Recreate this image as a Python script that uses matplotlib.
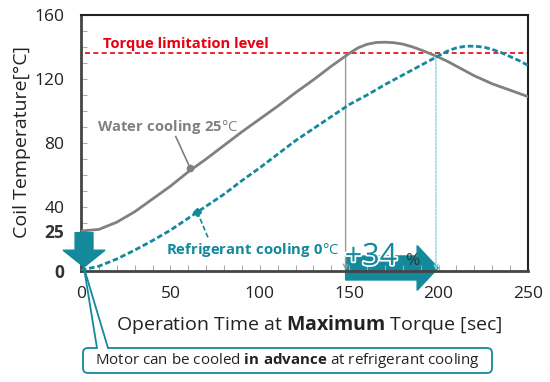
import matplotlib
matplotlib.use('Agg')
import matplotlib.pyplot as plt
from matplotlib.patches import FancyArrow, FancyBboxPatch, Polygon
from matplotlib.transforms import Affine2D
import matplotlib.patheffects as pe

# ---------------- data ----------------
water_t = [0, 10, 20, 30, 40, 50, 60, 70, 80, 90, 100, 110, 120, 130, 140, 150,
           155, 160, 165, 170, 175, 180, 185, 190, 195, 200, 205, 210, 220, 230, 240, 250]
water = [25, 26, 30.5, 37, 45, 53, 62, 70, 78.5, 87, 95, 103, 111.5, 119.5, 128, 136,
         139.5, 141.7, 142.8, 143, 142.7, 141.8, 140.2, 138.2, 136, 133.6, 131, 128,
         122, 117, 113, 109]
refrig_t = [0, 10, 20, 30, 40, 50, 60, 70, 80, 90, 100, 110, 120, 130, 140, 150,
            160, 170, 180, 190, 195, 200, 205, 210, 215, 220, 225, 230, 235, 240, 245, 250]
refrig = [0.5, 3, 7.5, 13, 19, 25.5, 33, 40.5, 48, 56.5, 64.5, 73, 81.5, 89, 96.5, 104,
          110, 116.5, 122.5, 128.5, 131.5, 134.5, 137.5, 139.5, 140.5, 140.5, 140,
          138.5, 136.5, 134, 131.5, 128.5]
limit = 136
t_water_limit = 148
t_refrig_limit = 198.5
gain_label = "+34"
xticks = [0, 50, 100, 150, 200, 250]
yticks = [0, 25, 40, 80, 120, 160]
ytick_labels = ['0', '25', '40', '80', '120', '160']

FONT = 'Open Sans'
plt.rcParams['font.family'] = [FONT, 'DejaVu Sans']
plt.rcParams['mathtext.fontset'] = 'custom'
plt.rcParams['mathtext.rm'] = FONT
plt.rcParams['mathtext.bf'] = FONT + ':bold'

GRAY = '#808080'
TEAL = '#13899b'
LTEAL = '#7fd6e8'
RED = '#e60012'
DARK = '#333333'

fig = plt.figure(figsize=(5.5, 3.82), dpi=100)
# pixel (from top-left) transform
T = Affine2D().scale(0.01, -0.01).translate(0, 3.82) + fig.dpi_scale_trans

ax = fig.add_axes([81 / 550, 1 - 271 / 382, 447 / 550, 256 / 382])
ax.set_xlim(0, 250)
ax.set_ylim(0, 160)

# limit line
ax.plot([2, 250], [limit, limit], color=RED, lw=1.2, ls=(0, (3, 2)), zorder=2)

# curves
ax.plot(water_t, water, color=GRAY, lw=2, zorder=3)
ax.plot(refrig_t, refrig, color=TEAL, lw=2, ls=(0, (2, 1)), zorder=3)

# vertical markers
ax.annotate('', xy=(t_water_limit, 0.5), xytext=(t_water_limit, limit),
            arrowprops=dict(arrowstyle='->', color='#999999', lw=1.0,
                            mutation_scale=8, shrinkA=0, shrinkB=0), zorder=2)
ax.annotate('', xy=(t_refrig_limit, 0.5), xytext=(t_refrig_limit, 134),
            arrowprops=dict(arrowstyle='->', color=LTEAL, lw=1.0, ls=(0, (1.5, 1)),
                            mutation_scale=8, shrinkA=0, shrinkB=0), zorder=2)

# +34% arrow (under spines)
arr = FancyArrow(t_water_limit, 1.9, 199.7 - t_water_limit, 0, width=15,
                 head_width=28, head_length=11.7, length_includes_head=True,
                 color=TEAL, clip_on=False, zorder=1.5)
ax.add_patch(arr)
ax.text(147.5, 3.8, gain_label, fontsize=22, color=TEAL,
        ha='left', va='baseline', zorder=4, clip_on=False,
        path_effects=[pe.withStroke(linewidth=2.5, foreground='white')])
ax.text(181, 3.8, '%', fontsize=12.5, color=DARK, ha='left', va='baseline',
        zorder=4, clip_on=False)

# down arrow at start
darr = FancyArrow(1.7, 24, 0, -21.5, width=10, head_width=23.5, head_length=10.5,
                  length_includes_head=True, color=TEAL, clip_on=False, zorder=5)
ax.add_patch(darr)

# ticks / spines
ax.set_xticks(xticks)
ax.set_xticks(range(0, 251, 10), minor=True)
ax.set_yticks(yticks)
ax.set_yticklabels(ytick_labels)
ax.set_yticks(range(0, 161, 10), minor=True)
ax.tick_params(which='both', direction='in', length=4, color='#aaaaaa', width=0.8)
ax.tick_params(axis='both', which='major', labelsize=12.5, labelcolor='#222222', pad=12)
ax.tick_params(axis='x', which='major', pad=11)
for lab in ax.get_yticklabels():
    if lab.get_text() in ('0', '25'):
        lab.set_fontweight('bold')
        lab.set_color(DARK)
for s in ('left', 'bottom'):
    ax.spines[s].set_linewidth(2)
    ax.spines[s].set_color('#444444')
for s in ('top', 'right'):
    ax.spines[s].set_linewidth(1.5)
    ax.spines[s].set_color('#222222')

# labels
fig.text(309, 324, r"Operation Time at $\bf{Maximum}$ Torque [sec]", transform=T,
         fontsize=14, ha='center', va='center', color='#222222')
fig.text(22, 142, "Coil Temperature[°C]", transform=T, rotation=90,
         fontsize=14, ha='center', va='center', color='#222222')

# annotations
fig.text(186, 44, "Torque limitation level", transform=T, fontsize=10.6,
         fontweight='bold', color=RED, ha='center', va='center')
fig.text(97, 127, r"$\bf{Water\ cooling\ 25}$°C", transform=T, fontsize=10.6,
         color=GRAY, ha='left', va='center')
ax.plot([53, 61], [84, 64.5], color=GRAY, lw=1.2, zorder=3)
ax.plot([61], [64.5], 'o', color=GRAY, ms=4.5, zorder=4)
fig.text(166, 250, r"$\bf{Refrigerant\ cooling\ 0}$°C", transform=T, fontsize=10.7,
         color=TEAL, ha='left', va='center')
ax.plot([71, 65], [21, 37], color=TEAL, lw=1.2, ls=(0, (3, 1.5)), zorder=3)
ax.plot([65], [37], 'D', color=TEAL, ms=4, zorder=4)

# callout box
box = FancyBboxPatch((83, 348), 409, 25, boxstyle='round,pad=0,rounding_size=5',
                     transform=T, facecolor='white', edgecolor=TEAL, lw=1.3,
                     zorder=6)
fig.patches.append(box)
wedge = Polygon([(84, 268), (97, 349), (108, 349)], closed=True, transform=T,
                facecolor='white', edgecolor='none', zorder=7)
fig.patches.append(wedge)
fig.lines.append(plt.Line2D([84, 97], [268, 348], transform=T, color=TEAL, lw=1.3, zorder=8))
fig.lines.append(plt.Line2D([84, 108], [268, 348], transform=T, color=TEAL, lw=1.3, zorder=8))
fig.text(287, 360, r"Motor can be cooled $\bf{in\ advance}$ at refrigerant cooling",
         transform=T, fontsize=10.9, color='#222222', ha='center', va='center',
         zorder=9)

fig.savefig('out.png', dpi=100)
